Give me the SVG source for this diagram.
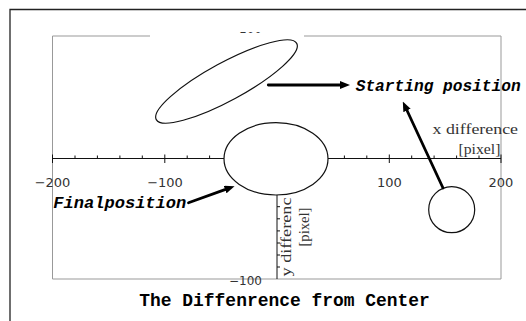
<svg xmlns="http://www.w3.org/2000/svg" width="526" height="321" viewBox="0 0 526 321">
  <style>
    .frame { fill: none; stroke: #222; stroke-width: 1.3; }
    .plot { fill: none; stroke: #999; stroke-width: 1; }
    .axis { fill: none; stroke: #111; stroke-width: 1; }
    .shape { fill: #fff; stroke: #111; stroke-width: 1.2; }
    .tick { font-family: "DejaVu Sans", sans-serif; font-size: 13px; fill: #333; text-anchor: middle; }
    .ytick { font-family: "DejaVu Sans", sans-serif; font-size: 12px; fill: #333; text-anchor: end; }
    .axlabel { font-family: "Liberation Serif", serif; font-size: 14px; fill: #333; }
    .callout { font-family: "Liberation Mono", monospace; font-size: 16px; font-weight: bold; font-style: italic; fill: #000; }
    .title { font-family: "Liberation Mono", monospace; font-size: 18px; font-weight: bold; fill: #000; }
    .conn { fill: none; stroke: #000; stroke-width: 2.8; stroke-linecap: round; }
  </style>
  <defs>
    <marker id="head" viewBox="0 0 10 8" refX="0.5" refY="4" markerUnits="userSpaceOnUse" markerWidth="10" markerHeight="8" orient="auto">
      <path d="M0,0 L10,4 L0,8 z" fill="#000"/>
    </marker>
    <clipPath id="topclip"><rect x="230" y="32" width="40" height="1.6"/></clipPath>
  </defs>

  <rect width="526" height="321" fill="#fff"/>

  <g id="frame">
    <path class="frame" d="M10,321 V9.5 H526"/>
    <path class="plot" d="M150,36 H52.5 V279 H501 V36 H304"/>
  </g>

  <g id="axes">
    <path class="axis" d="M52.5,158.5 H224 M328,158.5 H501"/>
    <path class="axis" d="M75,155.5 V158.5 M97.4,155.5 V158.5 M119.9,155.5 V158.5 M142.3,155.5 V158.5 M187.2,155.5 V158.5 M209.6,155.5 V158.5 M344.4,155.5 V158.5 M366.8,155.5 V158.5 M411.7,155.5 V158.5 M434.1,155.5 V158.5 M456.6,155.5 V158.5 M479,155.5 V158.5"/>
    <path class="axis" d="M52.5,154.5 V163 M164.8,154.5 V163 M389.3,154.5 V163 M501,154.5 V163"/>
    <path class="axis" d="M277,195 V279"/>
    <path class="axis" d="M277,206.7 H280 M277,218.8 H280 M277,230.9 H280 M277,243 H280 M277,255 H280 M277,267 H280"/>
    <text class="tick" x="52.5" y="187">−200</text>
    <text class="tick" x="165" y="187">−100</text>
    <text class="tick" x="389.5" y="187">100</text>
    <text class="tick" x="501" y="187">200</text>
    <text class="ytick" x="262" y="285">−100</text>
    <text class="ytick" x="262" y="33.4" clip-path="url(#topclip)">100</text>
    <text class="axlabel" x="432.5" y="133.5" textLength="85.5" lengthAdjust="spacingAndGlyphs">x difference</text>
    <text class="axlabel" x="458.5" y="153.5" textLength="42" lengthAdjust="spacingAndGlyphs">[pixel]</text>
    <text class="axlabel" transform="translate(290.5,276.5) rotate(-90)" x="0" y="0" textLength="79" lengthAdjust="spacingAndGlyphs">y differenc</text>
    <text class="axlabel" transform="translate(309,246.5) rotate(-90)" x="0" y="0" textLength="39" lengthAdjust="spacingAndGlyphs">[pixel]</text>
  </g>

  <g id="start-ellipse">
    <ellipse class="shape" cx="226.5" cy="81.5" rx="79.9" ry="19" transform="rotate(-28.5 226.5 81.5)"/>
  </g>

  <g id="final-ellipse">
    <ellipse class="shape" cx="276" cy="158.8" rx="52" ry="36.2"/>
  </g>

  <g id="small-circle">
    <circle class="shape" cx="451.7" cy="209.7" r="23"/>
  </g>

  <g id="connectors">
    <path class="conn" d="M268.3,85 L340.5,85" marker-end="url(#head)"/>
    <path class="conn" d="M443,188 L406.8,110" marker-end="url(#head)"/>
    <path class="conn" d="M188.5,202.7 L225.6,189.4" marker-end="url(#head)"/>
  </g>

  <g id="label-starting">
    <text class="callout" x="355.7" y="91" textLength="165" lengthAdjust="spacingAndGlyphs">Starting position</text>
  </g>

  <g id="label-final">
    <text class="callout" x="53.3" y="208" textLength="133" lengthAdjust="spacingAndGlyphs">Finalposition</text>
  </g>

  <g id="title">
    <text class="title" x="139.3" y="306" textLength="290.5" lengthAdjust="spacingAndGlyphs">The Diffenrence from Center</text>
  </g>
</svg>
